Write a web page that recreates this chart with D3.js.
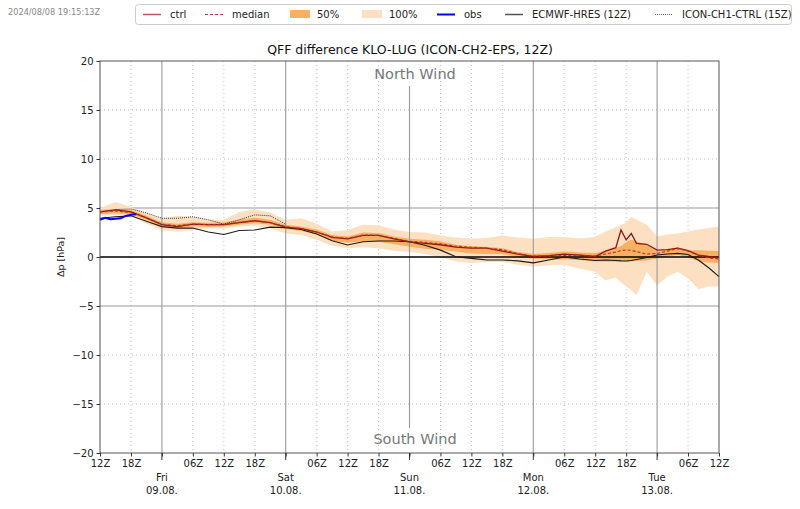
<!DOCTYPE html>
<html><head><meta charset="utf-8">
<script src="https://cdn.jsdelivr.net/npm/d3@7"></script>
<style>body{margin:0;background:#fff}svg{display:block;font-family:"DejaVu Sans",sans-serif}</style>
</head><body><svg id="c" width="800" height="509"></svg>
<script>
// ---- data ----
const leadHours = [0,3,6,9,12,15,18,21,24,27,30,33,36,39,42,45,48,51,54,57,60,63,66,69,72,75,78,81,84,87,90,93,96,98,100,101,102,103,104,106,108,110,112,114,116,118,120];
const ctrl   = [4.6,4.8,4.6,4.0,3.3,3.1,3.35,3.3,3.3,3.5,3.7,3.5,3.05,2.9,2.55,2.0,1.85,2.2,2.2,1.85,1.55,1.4,1.25,1.0,0.9,0.9,0.6,0.3,0.05,0.15,0.3,0.2,0.05,0.6,0.95,2.75,1.75,2.4,1.4,1.3,0.7,0.75,0.9,0.65,0.2,0.05,-0.05];
const median = [4.6,4.7,4.55,4.0,3.35,3.2,3.35,3.3,3.3,3.55,3.7,3.5,3.1,2.9,2.55,2.05,1.9,2.25,2.2,1.9,1.6,1.5,1.35,1.1,1.0,0.9,0.75,0.35,0.1,0.1,0.15,0.2,0.1,0.3,0.5,0.65,0.72,0.68,0.55,0.3,0.35,0.6,0.85,0.6,0.2,-0.1,-0.2];
const p25    = [4.4,4.45,4.35,3.8,3.1,2.95,3.1,3.05,3.1,3.3,3.45,3.3,2.85,2.65,2.3,1.65,1.45,1.6,1.55,1.3,1.05,0.85,0.75,0.55,0.35,0.3,0.3,0.0,-0.15,-0.25,-0.25,-0.3,-0.45,-0.48,-0.45,-0.45,-0.45,-0.45,-0.4,-0.35,-0.15,0.05,0.2,0.0,-0.45,-0.55,-0.6];
const p75    = [4.8,4.9,4.8,4.2,3.55,3.4,3.55,3.5,3.55,3.8,4.0,3.8,3.3,3.1,2.8,2.25,2.1,2.5,2.45,2.1,1.85,1.75,1.6,1.25,1.1,1.05,0.9,0.5,0.3,0.4,0.55,0.45,0.4,0.65,0.95,1.1,1.5,1.75,1.6,1.25,0.55,0.75,1.0,0.7,0.7,0.65,0.6];
const pmin   = [4.2,4.3,4.2,3.4,2.7,2.6,2.7,2.9,2.9,3.1,3.2,2.9,2.4,2.25,1.75,1.15,0.9,1.0,0.9,0.65,0.5,0.3,0.0,-0.45,-0.6,-0.5,-0.5,-0.8,-1.0,-0.85,-0.8,-1.2,-1.5,-2.4,-2.1,-2.6,-3.0,-3.4,-3.9,-1.5,-2.9,-2.0,-1.5,-2.2,-3.3,-3.0,-3.0];
const pmax   = [5.0,5.6,5.1,4.5,3.9,4.2,4.1,3.8,3.8,4.6,4.85,4.55,3.8,3.95,3.4,2.6,2.75,3.3,3.25,2.8,2.55,2.5,2.2,2.0,1.9,1.95,2.2,2.0,1.85,2.05,2.05,1.9,2.07,2.6,3.0,3.3,3.5,4.1,3.8,3.3,2.1,2.3,2.4,2.6,2.8,2.95,3.1];
const ecmwf  = [3.95,4.1,4.2,3.65,3.1,2.95,2.95,2.55,2.3,2.7,2.75,3.05,3.0,2.8,2.35,1.65,1.22,1.55,1.63,1.63,1.56,1.2,0.7,0.03,-0.14,-0.3,-0.3,-0.4,-0.6,-0.3,0.0,-0.2,-0.35,-0.3,-0.35,-0.4,-0.41,-0.35,-0.25,-0.05,0.2,0.3,0.37,0.25,-0.3,-1.1,-2.0];
const obsHours = [0,1,2,3,4,5,6,7];
const obs      = [3.8,4.0,3.85,3.9,3.95,4.2,4.3,4.35];
const ch1Hours = [3,6,9,12,15,18,21,24,27,30,33,36];
const ch1      = [4.85,4.9,4.5,3.95,3.95,4.1,3.8,3.35,3.8,4.3,4.2,3.35];
const yTicks = [-20,-15,-10,-5,0,5,10,15,20];
const dayNames = ["Fri","Sat","Sun","Mon","Tue"];
const dayDates = ["09.08.","10.08.","11.08.","12.08.","13.08."];
const startHourUTC = 12;
const legendLabels = ["ctrl","median","50%","100%","obs","ECMWF-HRES (12Z)","ICON-CH1-CTRL (15Z)"];
const titleText = "QFF difference KLO-LUG (ICON-CH2-EPS, 12Z)";
const stampText = "2024/08/08 19:15:13Z";

// ---- drawing ----
const svg = d3.select("#c");
const L=100,R=719,T=61,B=453;
const x = d3.scaleLinear().domain([0,120]).range([L,R]);
const y = d3.scaleLinear().domain([-20,20]).range([B,T]);
const C = {ctrl:"#931515", med:"#c0302a", p50:"#f8b062", p100:"#fde0c2", obs:"#0000ff", ec:"#1a1a1a", ch1:"#222"};

svg.append("rect").attr("width",800).attr("height",509).attr("fill","#fff");
svg.append("text").attr("x",8).attr("y",15).attr("font-size",8.2).attr("fill","#888").text(stampText);
svg.append("text").attr("x",410).attr("y",54).attr("text-anchor","middle").attr("font-size",12.5).attr("fill","#111").text(titleText);

// grid
const g = svg.append("g");
const sixH = d3.range(0,121,6);
sixH.forEach(h=>{
  const hr=(startHourUTC+h)%24;
  if(hr!==0 && h>0 && h<120) g.append("line").attr("x1",x(h)).attr("x2",x(h)).attr("y1",T).attr("y2",B).attr("stroke","#b0b0b0").attr("stroke-width",0.8).attr("stroke-dasharray","1,3");
});
yTicks.forEach(v=>{
  if(Math.abs(v)===10||Math.abs(v)===15) g.append("line").attr("x1",L).attr("x2",R).attr("y1",y(v)).attr("y2",y(v)).attr("stroke","#b0b0b0").attr("stroke-width",0.8).attr("stroke-dasharray","1,3");
  if(Math.abs(v)===5) g.append("line").attr("x1",L).attr("x2",R).attr("y1",y(v)).attr("y2",y(v)).attr("stroke","#999").attr("stroke-width",1);
});

// bands
const rows = leadHours.map((h,i)=>({h,ctrl:ctrl[i],med:median[i],p25:p25[i],p75:p75[i],mn:pmin[i],mx:pmax[i],ec:ecmwf[i]}));
svg.append("path").datum(rows).attr("fill",C.p100).attr("d",d3.area().x(d=>x(d.h)).y0(d=>y(d.mn)).y1(d=>y(d.mx)));
svg.append("path").datum(rows).attr("fill",C.p50).attr("d",d3.area().x(d=>x(d.h)).y0(d=>y(d.p25)).y1(d=>y(d.p75)));

// day lines
const middays = sixH.filter(h=>(startHourUTC+h)%24===0);
middays.forEach((h,i)=>{
  if(i===2){
    svg.append("line").attr("x1",x(h)).attr("x2",x(h)).attr("y1",86).attr("y2",428).attr("stroke","#999").attr("stroke-width",1.1);
  } else {
    svg.append("line").attr("x1",x(h)).attr("x2",x(h)).attr("y1",T).attr("y2",B).attr("stroke","#999").attr("stroke-width",1.1);
  }
});
svg.append("line").attr("x1",L).attr("x2",R).attr("y1",y(0)).attr("y2",y(0)).attr("stroke","#000").attr("stroke-width",1.3);

// lines
const ln = k=>d3.line().x(d=>x(d.h)).y(d=>y(d[k]));
svg.append("path").datum(rows).attr("fill","none").attr("stroke",C.ec).attr("stroke-width",1.1).attr("d",ln("ec"));
svg.append("path").datum(rows).attr("fill","none").attr("stroke",C.ctrl).attr("stroke-width",1.3).attr("d",ln("ctrl"));
svg.append("path").datum(rows).attr("fill","none").attr("stroke",C.med).attr("stroke-width",1.1).attr("stroke-dasharray","3,2").attr("d",ln("med"));
const ch1Rows = ch1Hours.map((h,i)=>({h,v:ch1[i]}));
svg.append("path").datum(ch1Rows).attr("fill","none").attr("stroke",C.ch1).attr("stroke-width",0.9).attr("stroke-dasharray","1,1").attr("d",ln("v"));
const obsRows = obsHours.map((h,i)=>({h,v:obs[i]}));
svg.append("path").datum(obsRows).attr("fill","none").attr("stroke",C.obs).attr("stroke-width",2).attr("d",ln("v"));

// wind labels
svg.append("text").attr("x",415).attr("y",79).attr("text-anchor","middle").attr("font-size",14.5).attr("fill","#777").text("North Wind");
svg.append("text").attr("x",415).attr("y",444).attr("text-anchor","middle").attr("font-size",14.5).attr("fill","#777").text("South Wind");

// frame
svg.append("rect").attr("x",L).attr("y",T).attr("width",R-L).attr("height",B-T).attr("fill","none").attr("stroke","#555").attr("stroke-width",1);

// axes
const ya = svg.append("g").attr("transform",`translate(${L},0)`).call(d3.axisLeft(y).tickValues(yTicks).tickSize(3.5).tickPadding(3));
ya.select(".domain").remove();
ya.selectAll("text").attr("font-size",10).attr("font-family","DejaVu Sans").attr("fill","#222");
ya.selectAll("line").attr("stroke","#333");
svg.append("text").attr("transform","translate(64,257) rotate(-90)").attr("text-anchor","middle").attr("font-size",9.5).attr("fill","#222").text("Δp [hPa]");

const xa = svg.append("g").attr("transform",`translate(0,${B})`).call(d3.axisBottom(x).tickValues(sixH).tickSize(3.5).tickPadding(3)
  .tickFormat(h=>{const hr=(startHourUTC+h)%24; return hr===0?"":d3.format("02d")(hr)+"Z";}));
xa.select(".domain").remove();
xa.selectAll("text").attr("font-size",10).attr("font-family","DejaVu Sans").attr("fill","#222");
xa.selectAll("line").attr("stroke","#333");
middays.forEach((h,i)=>{
  svg.append("line").attr("x1",x(h)).attr("x2",x(h)).attr("y1",B).attr("y2",B+7).attr("stroke","#333");
  svg.append("text").attr("x",x(h)).attr("y",481).attr("text-anchor","middle").attr("font-size",10).attr("fill","#222").text(dayNames[i]);
  svg.append("text").attr("x",x(h)).attr("y",494).attr("text-anchor","middle").attr("font-size",10).attr("fill","#222").text(dayDates[i]);
});

// legend
const lg = svg.append("g");
lg.append("rect").attr("x",135.5).attr("y",4.5).attr("width",656).attr("height",20).attr("rx",3).attr("fill","#fff").attr("stroke","#ccc");
const lx = [143,205,290,362,437,505,655];
const types = ["ctrl","med","p50","p100","obs","ec","ch1"];
legendLabels.forEach((t,i)=>{
  const x0=lx[i], ty=types[i];
  if(ty==="p50"||ty==="p100"){
    lg.append("rect").attr("x",x0).attr("y",10).attr("width",20).attr("height",8).attr("fill",C[ty]);
  } else {
    const l=lg.append("line").attr("x1",x0).attr("x2",x0+18).attr("y1",14.5).attr("y2",14.5).attr("stroke",C[ty]);
    if(ty==="ctrl") l.attr("stroke","#b05a5a").attr("stroke-width",1.5);
    if(ty==="med") l.attr("stroke","#b04040").attr("stroke-dasharray","3,2").attr("stroke-width",1.2);
    if(ty==="obs") l.attr("stroke-width",2);
    if(ty==="ec") l.attr("stroke","#555").attr("stroke-width",1.5);
    if(ty==="ch1") l.attr("stroke","#555").attr("stroke-dasharray","1,1").attr("stroke-width",0.9);
  }
  lg.append("text").attr("x",x0+27).attr("y",18).attr("font-size",10).attr("fill","#222").text(t);
});
</script></body></html>
